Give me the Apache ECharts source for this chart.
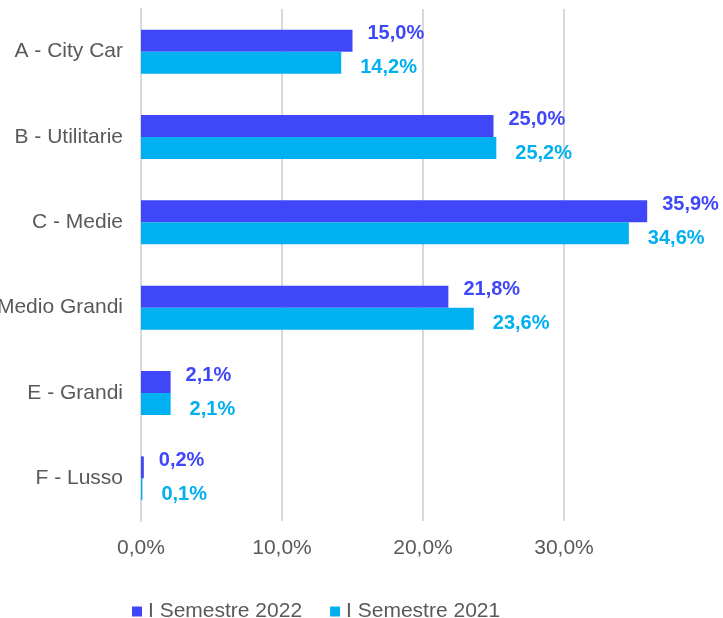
<!DOCTYPE html>
<html>
<head>
<meta charset="utf-8">
<script src="https://cdn.jsdelivr.net/npm/echarts@6/dist/echarts.min.js"></script>
<style>
  html, body { margin: 0; padding: 0; background: #fff; }
  #chart { width: 723px; height: 618px; }
</style>
</head>
<body>
<div id="chart"></div>
<script>
  // segmenti e quote (%)
  const segments = ['A - City Car', 'B - Utilitarie', 'C - Medie', 'D - Medio Grandi', 'E - Grandi', 'F - Lusso'];
  const share2022 = [15.0, 25.0, 35.9, 21.8, 2.1, 0.2];
  const share2021 = [14.2, 25.2, 34.6, 23.6, 2.1, 0.1];
  const seriesNames = ['I Semestre 2022', 'I Semestre 2021'];

  const fmt = v => v.toFixed(1).replace('.', ',') + '%';
  const font = 'Liberation Sans, Arial, sans-serif';

  let myChart = echarts.init(document.getElementById('chart'));
  myChart.setOption({
    animation: false,
    textStyle: { fontFamily: font },
    grid: { left: 141, right: 18, top: 9, bottom: 97, containLabel: false, outerBoundsMode: 'none' },
    legend: {
      data: seriesNames,
      left: 127,
      top: 596,
      itemWidth: 10,
      itemHeight: 10,
      itemGap: 28,
      icon: 'rect',
      textStyle: { fontSize: 21, color: '#595959', padding: [0, 0, 0, 1] }
    },
    xAxis: {
      type: 'value',
      min: 0,
      max: 40,
      interval: 10,
      axisLine: { show: false },
      axisTick: { show: false },
      axisLabel: { fontSize: 21, color: '#595959', margin: 17, showMaxLabel: false, formatter: v => fmt(v) },
      splitLine: { show: true, showMaxLine: false, lineStyle: { color: '#d9d9d9', width: 2 } }
    },
    yAxis: {
      type: 'category',
      inverse: true,
      data: segments,
      axisLine: { show: true, lineStyle: { color: '#d9d9d9', width: 2 } },
      axisTick: { show: false },
      axisLabel: { fontSize: 21, color: '#595959', margin: 18 }
    },
    series: [
      {
        name: seriesNames[0],
        type: 'bar',
        data: share2022,
        barWidth: 22,
        barGap: '0%',
        itemStyle: { color: '#3f47f8' },
        label: {
          show: true, position: 'right', offset: [10, -7],
          color: '#3f47f8', fontSize: 20, fontWeight: 'bold',
          formatter: p => fmt(p.value)
        }
      },
      {
        name: seriesNames[1],
        type: 'bar',
        data: share2021,
        barWidth: 22,
        itemStyle: { color: '#00b0f0' },
        label: {
          show: true, position: 'right', offset: [14, 5],
          color: '#00b0f0', fontSize: 20, fontWeight: 'bold',
          formatter: p => fmt(p.value)
        }
      }
    ]
  });
</script>
</body>
</html>
